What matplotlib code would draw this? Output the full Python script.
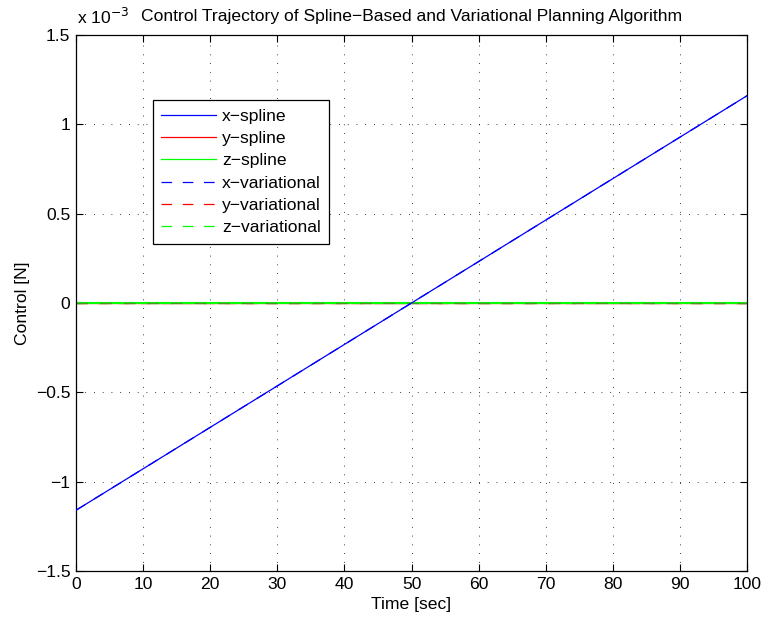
import matplotlib
matplotlib.use("Agg")
import matplotlib.pyplot as plt
import numpy as np

plt.rcParams['font.family'] = ['Liberation Sans', 'DejaVu Sans']

# Data
time_sec = [0, 100]
x_spline = [-1.16e-3, 1.16e-3]
y_spline = [0.0, 0.0]
z_spline = [0.0, 0.0]
x_variational = [-1.16e-3, 1.16e-3]
y_variational = [0.0, 0.0]
z_variational = [0.0, 0.0]

labels = ['x\u2212spline', 'y\u2212spline', 'z\u2212spline',
          'x\u2212variational', 'y\u2212variational', 'z\u2212variational']

scale = 1e3
FS = 12.6
W, H = 764, 622
fig = plt.figure(figsize=(W / 100, H / 100), dpi=100)
ax = fig.add_axes([76 / W, 1 - 571 / H, (747 - 76) / W, (571 - 35) / H])

dash = (0, (8.5, 8.5))
ax.plot(time_sec, np.array(x_spline) * scale, color='#0000ff', lw=0.9, label=labels[0], zorder=2.5)
ax.plot(time_sec, np.array(y_spline) * scale, color='#ff0000', lw=0.9, label=labels[1], zorder=2.0)
ax.plot(time_sec, np.array(z_spline) * scale, color='#00ff00', lw=1.5, label=labels[2], zorder=2.2)
ax.plot(time_sec, np.array(x_variational) * scale, color='#0000ff', lw=0.9, ls=dash, label=labels[3], zorder=2.6)
ax.plot(time_sec, np.array(y_variational) * scale, color='#ff0000', lw=0.9, ls=dash, label=labels[4], zorder=2.1)
ax.plot(time_sec, np.array(z_variational) * scale, color='#40a020', lw=1.0, ls=dash, label=labels[5], zorder=2.3)

ax.set_xlim(0, 100)
ax.set_ylim(-1.5, 1.5)
ax.set_xticks(np.arange(0, 101, 10))
ax.set_yticks([-1.5, -1, -0.5, 0, 0.5, 1, 1.5])
ax.set_yticklabels(['\u22121.5', '\u22121', '\u22120.5', '0', '0.5', '1', '1.5'])
ax.tick_params(direction='in', top=True, right=True, labelsize=FS, length=5, width=0.8, pad=4)
for s in ax.spines.values():
    s.set_linewidth(0.9)
ax.grid(True, color='black', ls=(0, (1, 9.5)), lw=0.6)

ax.set_xlabel('Time [sec]', fontsize=FS, labelpad=4)
ax.set_ylabel('Control [N]', fontsize=FS, labelpad=4)
ax.set_title('Control Trajectory of Spline\u2212Based and Variational Planning Algorithm',
             fontsize=FS, pad=10)
ax.text(0.002, 1.014, 'x 10$^{-3}$', transform=ax.transAxes, fontsize=FS, ha='left', va='bottom')

leg = ax.legend(loc='upper left', bbox_to_anchor=((152.7 - 76) / 671, (571 - 100) / 536),
                borderaxespad=0, fontsize=FS, frameon=True, fancybox=False,
                edgecolor='black', handlelength=3.1, labelspacing=0.4, handletextpad=0.35,
                borderpad=0.5)
leg.get_frame().set_linewidth(0.9)
leg.get_frame().set_alpha(1)
# legend lines drawn uniformly thin, pure green for both z entries as in the reference
for ln in leg.get_lines():
    ln.set_linewidth(0.9)
leg.get_lines()[5].set_color('#00ff00')

fig.savefig('out.png', dpi=100)
